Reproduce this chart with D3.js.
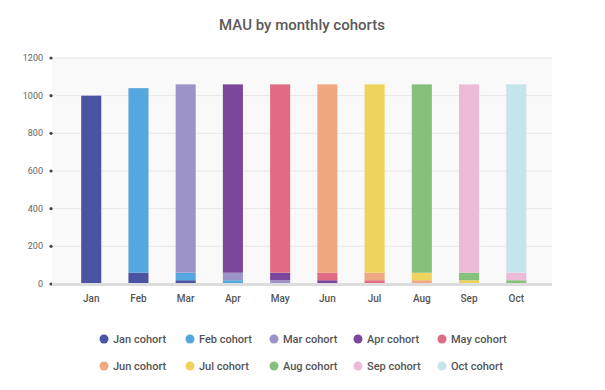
<!DOCTYPE html>
<html>
<head>
<meta charset="utf-8">
<script src="https://cdn.jsdelivr.net/npm/d3@7"></script>
<style>
  body { margin: 0; background: #fff; font-family: Roboto, "Noto Sans", sans-serif; }
</style>
</head>
<body>
<svg id="chart" width="605" height="390"></svg>
<script>
// ── Data ────────────────────────────────────────────────────────────────
const months = ["Jan", "Feb", "Mar", "Apr", "May", "Jun", "Jul", "Aug", "Sep", "Oct"];
const cohorts = ["Jan cohort", "Feb cohort", "Mar cohort", "Apr cohort", "May cohort",
                 "Jun cohort", "Jul cohort", "Aug cohort", "Sep cohort", "Oct cohort"];
const cohortColors = ["#4a54a3", "#55a7df", "#9c94c9", "#7a479c", "#e06b83",
                      "#f0a880", "#eed35c", "#85c17a", "#ecbcd7", "#c6e4ed"];
// users per cohort, one row per cohort, one value per month
const cohortValues = [
  [1000,   60,   20,    0,    0,    0,    0,    0,    0,    0],
  [   0,  980,   40,   20,    0,    0,    0,    0,    0,    0],
  [   0,    0, 1000,   40,   20,    0,    0,    0,    0,    0],
  [   0,    0,    0, 1000,   40,   20,    0,    0,    0,    0],
  [   0,    0,    0,    0, 1000,   40,   20,    0,    0,    0],
  [   0,    0,    0,    0,    0, 1000,   40,   20,    0,    0],
  [   0,    0,    0,    0,    0,    0, 1000,   40,   20,    0],
  [   0,    0,    0,    0,    0,    0,    0, 1000,   40,   20],
  [   0,    0,    0,    0,    0,    0,    0,    0, 1000,   40],
  [   0,    0,    0,    0,    0,    0,    0,    0,    0, 1000],
];
const yTicks = [0, 200, 400, 600, 800, 1000, 1200];

// ── Layout ──────────────────────────────────────────────────────────────
const svg = d3.select("#chart");
const plot = { left: 52, right: 552, top: 58, bottom: 284 };

const rows = months.map((m, i) => {
  const r = { month: m };
  cohorts.forEach((c, k) => { r[c] = cohortValues[k][i]; });
  return r;
});
const stacked = d3.stack().keys(cohorts)(rows);

const x = d3.scaleBand().domain(months).range([67.5, 540]).paddingInner(0.575).paddingOuter(0.29);
const y = d3.scaleLinear().domain([0, 1200]).range([plot.bottom, plot.top]);
const color = d3.scaleOrdinal().domain(cohorts).range(cohortColors);

// Title
svg.append("text")
  .attr("x", 302).attr("y", 30)
  .attr("text-anchor", "middle")
  .attr("fill", "#5a5a5a")
  .style("font-size", "15px")
  .style("font-weight", 500)
  .text("MAU by monthly cohorts");

// Plot background
svg.append("rect")
  .attr("x", plot.left).attr("y", plot.top)
  .attr("width", plot.right - plot.left).attr("height", plot.bottom - plot.top)
  .attr("fill", "#f9f9f9");

// Grid
svg.append("g")
  .selectAll("line")
  .data(yTicks.filter(t => t > 0))
  .enter().append("line")
  .attr("x1", plot.left).attr("x2", plot.right)
  .attr("y1", d => y(d)).attr("y2", d => y(d))
  .attr("stroke", "#e8e8e8").attr("stroke-width", 1);

// Y axis: dots + labels
const yAxis = svg.append("g");
yAxis.selectAll("circle")
  .data(yTicks)
  .enter().append("circle")
  .attr("cx", 51).attr("cy", d => y(d)).attr("r", 1.6)
  .attr("fill", "#444");
yAxis.selectAll("text")
  .data(yTicks)
  .enter().append("text")
  .attr("x", 43).attr("y", d => y(d)).attr("dy", "0.35em")
  .attr("text-anchor", "end")
  .attr("fill", "#666")
  .style("font-size", "9px")
  .text(d => d);

// Bars
svg.append("g")
  .selectAll("g")
  .data(stacked)
  .enter().append("g")
  .attr("fill", d => color(d.key))
  .selectAll("rect")
  .data(d => d.filter(s => s[1] - s[0] > 0))
  .enter().append("rect")
  .attr("x", d => x(d.data.month))
  .attr("width", x.bandwidth())
  .attr("y", d => y(d[1]))
  .attr("height", d => y(d[0]) - y(d[1]));

// Baseline
svg.append("rect")
  .attr("x", plot.left).attr("y", plot.bottom - 1)
  .attr("width", plot.right - plot.left).attr("height", 3)
  .attr("fill", "#dcdcdc");

// X labels
svg.append("g")
  .selectAll("text")
  .data(months)
  .enter().append("text")
  .attr("x", d => x(d) + x.bandwidth() / 2)
  .attr("y", 302)
  .attr("text-anchor", "middle")
  .attr("fill", "#555")
  .style("font-size", "10px")
  .style("font-weight", 500)
  .text(d => d);

// Legend
const legendX = [104, 190, 274, 358, 442];
const legend = svg.append("g")
  .selectAll("g")
  .data(cohorts)
  .enter().append("g")
  .attr("transform", (d, i) => `translate(${legendX[i % 5]},${i < 5 ? 339 : 366})`);
legend.append("circle")
  .attr("r", 4.5)
  .attr("fill", d => color(d));
legend.append("text")
  .attr("x", 9).attr("dy", "0.35em")
  .attr("fill", "#555")
  .style("font-size", "11px")
  .style("font-weight", 500)
  .text(d => d);
</script>
</body>
</html>
